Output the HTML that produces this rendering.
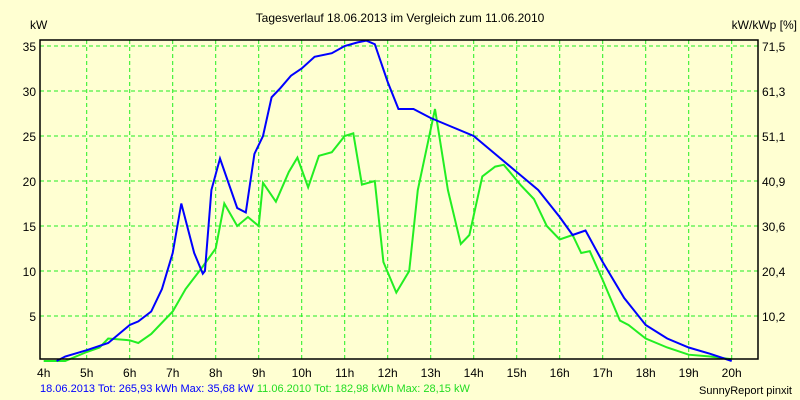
<!DOCTYPE html>
<html><head><meta charset="utf-8"><style>
body{margin:0;background:#ffffd2;}
svg{display:block;font-family:"Liberation Sans",sans-serif;}
</style></head><body>
<svg id="c" width="800" height="400">
<rect width="800" height="400" fill="#ffffd2"/>
<text x="400" y="22" font-size="12" text-anchor="middle">Tagesverlauf 18.06.2013 im Vergleich zum 11.06.2010</text>
<text x="30" y="29" font-size="12">kW</text>
<text x="797" y="29" font-size="12" text-anchor="end">kW/kWp [%]</text>
<g id="grid"></g><g id="series"></g><g id="labels" font-size="12"></g>
<rect x="40" y="40" width="718" height="319" fill="none" stroke="#000" stroke-width="1.5"/>
<text x="40" y="392" font-size="11"><tspan fill="#0000ff">18.06.2013 Tot: 265,93 kWh Max: 35,68 kW</tspan><tspan fill="#22dd22"> 11.06.2010 Tot: 182,98 kWh Max: 28,15 kW</tspan></text>
<text x="792" y="394" font-size="11" text-anchor="end">SunnyReport pinxit</text>
</svg>
<script>
const hours=[4,5,6,7,8,9,10,11,12,13,14,15,16,17,18,19,20];
const yTicks=[5,10,15,20,25,30,35];
const y2Labels=["10,2","20,4","30,6","40,9","51,1","61,3","71,5"];
const blueT=[4.3,4.5,5,5.5,5.75,6,6.2,6.5,6.75,7,7.2,7.5,7.7,7.75,7.9,8.1,8.5,8.7,8.9,9.1,9.3,9.5,9.75,10,10.3,10.7,11,11.3,11.5,11.7,12,12.25,12.6,13,13.5,14,14.5,15,15.5,16,16.3,16.6,17,17.5,18,18.5,19,19.5,20];
const blueV=[0,0.5,1.2,2,3,4,4.4,5.5,8,12,17.5,12,9.7,10,19,22.5,17,16.5,23,25,29.3,30.3,31.7,32.5,33.8,34.2,35,35.4,35.6,35.2,31,28,28,27,26,25,23,21,19,16,14,14.5,11,7,4,2.5,1.5,0.8,0];
const greenT=[4,4.5,5,5.3,5.5,6,6.2,6.5,7,7.3,7.7,8,8.2,8.5,8.75,9,9.1,9.4,9.7,9.9,10.15,10.4,10.7,11,11.2,11.4,11.7,11.9,12.2,12.5,12.7,13.1,13.4,13.7,13.9,14.2,14.5,14.7,15.1,15.4,15.7,16,16.3,16.5,16.7,17,17.4,17.6,18,18.5,19,19.5,20];
const greenV=[0,0,1,1.5,2.5,2.3,2,3,5.5,8,10.5,12.5,17.5,15,16,15,19.8,17.7,21,22.6,19.3,22.8,23.2,25,25.3,19.6,20,11,7.6,10,19,28,19,13,14,20.5,21.6,21.8,19.5,18,15,13.5,14,12,12.2,9,4.5,4,2.5,1.5,0.7,0.5,0.2];
const X=h=>43.7+(h-4)*43, Y=v=>361-9*v;
const NS="http://www.w3.org/2000/svg";
const grid=document.getElementById('grid'),ser=document.getElementById('series'),lab=document.getElementById('labels');
function mk(t,a,p){const e=document.createElementNS(NS,t);for(const k in a)e.setAttribute(k,a[k]);p.appendChild(e);return e;}
hours.forEach(h=>{
 if(h>4){const l=mk('line',{x1:X(h),x2:X(h),y1:40,y2:359,stroke:'#22ee22','stroke-dasharray':'4,3'},grid);
 
 }
 const t=mk('text',{x:X(h),y:377,'text-anchor':'middle'},lab);t.textContent=h+'h';
 
 
});
yTicks.forEach((v,i)=>{
 const l=mk('line',{x1:40,x2:758,y1:Y(v),y2:Y(v),stroke:'#22ee22','stroke-dasharray':'4,3'},grid);
 
 
 const t=mk('text',{x:36,y:Y(v)+5,'text-anchor':'end'},lab);t.textContent=v;
 
 
 const t2=mk('text',{x:762,y:Y(v)+5},lab);t2.textContent=y2Labels[i];
 
 
});
function line(T,V,c,n){const p=mk('polyline',{points:T.map((t,i)=>X(t)+','+Y(V[i])).join(' '),fill:'none',stroke:c,'stroke-width':2},ser);
 
 }
line(greenT,greenV,'#22ee22','series-2010-line');
line(blueT,blueV,'#0000ff','series-2013-line');
</script>
</body></html>
